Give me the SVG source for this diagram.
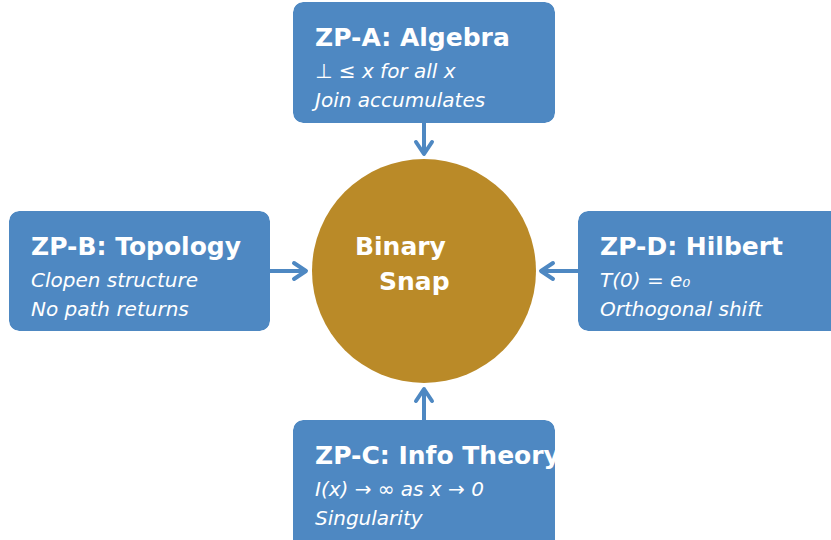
<svg xmlns="http://www.w3.org/2000/svg" width="831" height="540" viewBox="0 0 831 540">
<style>
.box{fill:#4E88C2}
.t{font-family:"DejaVu Sans",sans-serif;fill:#fff}
.h{font-size:25px;font-weight:bold}
.i{font-size:20px;font-style:italic}
.c{stroke:#4E88C2;stroke-width:4;fill:none;stroke-linecap:round;stroke-linejoin:round}
</style>
<defs>
<clipPath id="cA"><rect x="293" y="2" width="262" height="121" rx="10"/></clipPath>
<clipPath id="cB"><rect x="9" y="211" width="261" height="120" rx="10"/></clipPath>
<clipPath id="cC"><rect x="293" y="420" width="262" height="130" rx="10"/></clipPath>
<clipPath id="cD"><rect x="578" y="211" width="270" height="120" rx="10"/></clipPath>
</defs>
<rect width="831" height="540" fill="#fff"/>
<g id="connectors">
<path class="c" d="M424 123V153M416 142L424 154L432 142"/>
<path class="c" d="M270 271H305M294 263L306 271L294 279"/>
<path class="c" d="M578 271H542M553 263L541 271L553 279"/>
<path class="c" d="M424 420V390M416 401L424 389L432 401"/>
</g>
<g id="center">
<circle cx="424" cy="271" r="112" fill="#BA8A28"/>
<text class="t h" x="355" y="255">Binary</text>
<text class="t h" x="379" y="290">Snap</text>
</g>
<g id="zpA" clip-path="url(#cA)">
<rect class="box" x="293" y="2" width="262" height="121" rx="10"/>
<text class="t h" x="315" y="46">ZP-A: Algebra</text>
<text class="t i" x="315" y="78">⊥ ≤ x for all x</text>
<text class="t i" x="315" y="107">Join accumulates</text>
</g>
<g id="zpB" clip-path="url(#cB)">
<rect class="box" x="9" y="211" width="261" height="120" rx="10"/>
<text class="t h" x="31" y="255">ZP-B: Topology</text>
<text class="t i" x="31" y="287">Clopen structure</text>
<text class="t i" x="31" y="316">No path returns</text>
</g>
<g id="zpC" clip-path="url(#cC)">
<rect class="box" x="293" y="420" width="262" height="130" rx="10"/>
<text class="t h" x="315" y="464">ZP-C: Info Theory</text>
<text class="t i" x="315" y="496">I(x) → ∞ as x → 0</text>
<text class="t i" x="315" y="525">Singularity</text>
</g>
<g id="zpD" clip-path="url(#cD)">
<rect class="box" x="578" y="211" width="270" height="120" rx="10"/>
<text class="t h" x="600" y="255">ZP-D: Hilbert</text>
<text class="t i" x="600" y="287">T(0) = e₀</text>
<text class="t i" x="600" y="316">Orthogonal shift</text>
</g>
</svg>
